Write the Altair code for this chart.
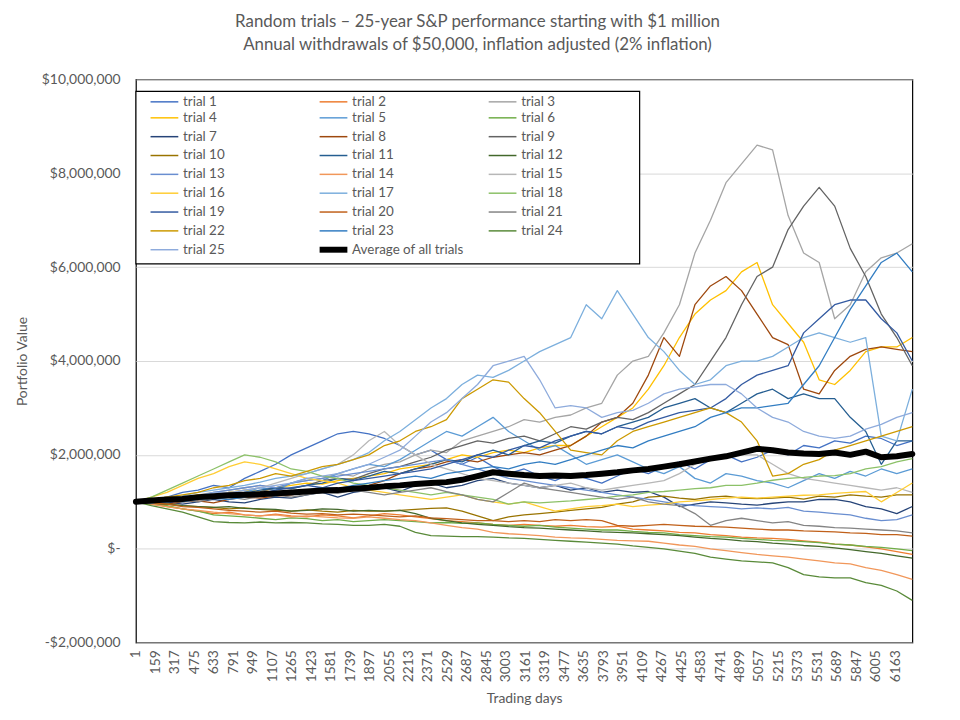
import altair as alt
import pandas as pd

TITLE_LINES = [
    "Random trials \u2013 25-year S&P performance starting with $1 million",
    "Annual withdrawals of $50,000, inflation adjusted (2% inflation)",
]
X_TITLE = "Trading days"
Y_TITLE = "Portfolio Value"

# sampled trading days (every 126 trading days = half a year)
SAMPLE_DAYS = list(range(1, 6302, 126))
TICK_DAYS = [1, 159, 317, 475, 633, 791, 949, 1107, 1265, 1423, 1581, 1739, 1897,
             2055, 2213, 2371, 2529, 2687, 2845, 3003, 3161, 3319, 3477, 3635,
             3793, 3951, 4109, 4267, 4425, 4583, 4741, 4899, 5057, 5215, 5373,
             5531, 5689, 5847, 6005, 6163]
Y_TICKS = [-2000000, 0, 2000000, 4000000, 6000000, 8000000, 10000000]

# portfolio values in $ millions
TRIAL_1 = [1.0, 1.05, 1.1, 1.2, 1.25, 1.35, 1.3, 1.5, 1.65, 1.8, 2.0,
           2.15, 2.3, 2.45, 2.5, 2.45, 2.35, 2.2, 2.0, 2.1, 1.9,
           1.8, 1.95, 1.75, 1.6, 1.7, 1.55, 1.45, 1.6, 1.5, 1.4,
           1.55, 1.7, 1.6, 1.75, 1.85, 1.7, 1.9, 2.0, 1.85, 1.95,
           2.1, 2.0, 2.2, 2.15, 2.3, 2.25, 2.4, 2.35, 2.2, 2.3]
TRIAL_2 = [1.0, 0.95, 0.9, 0.85, 0.8, 0.75, 0.78, 0.72, 0.7, 0.74, 0.7,
           0.68, 0.72, 0.7, 0.66, 0.7, 0.75, 0.72, 0.68, 0.64, 0.6,
           0.58, 0.55, 0.52, 0.5, 0.52, 0.5, 0.48, 0.5, 0.47, 0.46,
           0.48, 0.42, 0.4, 0.38, 0.35, 0.34, 0.3, 0.28, 0.25, 0.23,
           0.22, 0.2, 0.17, 0.14, 0.1, 0.08, 0.04, 0.0, -0.06, -0.12]
TRIAL_3 = [1.0, 1.05, 1.1, 1.05, 1.15, 1.2, 1.25, 1.3, 1.35, 1.3, 1.4,
           1.45, 1.5, 1.6, 1.55, 1.7, 1.8, 1.85, 2.0, 2.1, 2.05,
           2.3, 2.4, 2.5, 2.6, 2.75, 2.7, 2.8, 2.85, 3.0, 3.1,
           3.7, 4.0, 4.1, 4.6, 5.2, 6.3, 7.0, 7.8, 8.2, 8.6,
           8.5, 7.1, 6.3, 6.1, 4.9, 5.2, 5.9, 6.2, 6.3, 6.5]
TRIAL_4 = [1.0, 1.02, 1.08, 1.1, 1.15, 1.12, 1.2, 1.25, 1.22, 1.3, 1.35,
           1.4, 1.38, 1.45, 1.5, 1.55, 1.6, 1.7, 1.75, 1.8, 1.9,
           2.0, 1.95, 2.05, 2.1, 2.05, 2.15, 2.2, 2.2, 2.4, 2.6,
           2.8, 3.0, 3.4, 3.9, 4.5, 5.0, 5.3, 5.5, 5.9, 6.1,
           5.2, 4.8, 4.4, 3.6, 3.5, 3.8, 4.2, 4.3, 4.3, 4.5]
TRIAL_5 = [1.0, 1.03, 0.98, 1.05, 1.1, 1.15, 1.1, 1.2, 1.3, 1.25, 1.4,
           1.5, 1.45, 1.6, 1.7, 1.8, 1.75, 1.9, 2.1, 2.3, 2.5,
           2.4, 2.6, 2.8, 2.5, 2.3, 2.1, 2.2, 2.0, 1.8, 1.9,
           2.0, 1.85, 1.7, 1.6, 1.75, 1.5, 1.4, 1.6, 1.55, 1.45,
           1.4, 1.3, 1.45, 1.6, 1.5, 1.65, 1.55, 1.7, 1.6, 1.7]
TRIAL_6 = [1.0, 0.95, 0.92, 0.85, 0.8, 0.72, 0.7, 0.68, 0.65, 0.62, 0.66,
           0.64, 0.6, 0.62, 0.58, 0.6, 0.62, 0.6, 0.58, 0.55, 0.56,
           0.54, 0.55, 0.52, 0.5, 0.48, 0.5, 0.46, 0.44, 0.42, 0.4,
           0.4, 0.37, 0.35, 0.34, 0.3, 0.28, 0.26, 0.25, 0.22, 0.2,
           0.18, 0.17, 0.15, 0.13, 0.1, 0.08, 0.05, 0.03, 0.0, -0.04]
TRIAL_7 = [1.0, 1.02, 1.0, 0.95, 1.0, 1.05, 1.0, 0.98, 1.05, 1.1, 1.08,
           1.15, 1.2, 1.1, 1.2, 1.25, 1.3, 1.22, 1.35, 1.4, 1.3,
           1.35, 1.45, 1.5, 1.4, 1.35, 1.3, 1.35, 1.25, 1.3, 1.2,
           1.25, 1.2, 1.22, 1.1, 0.9, 0.95, 1.0, 0.98, 0.95, 0.93,
           0.97, 1.0, 1.0, 1.05, 1.05, 1.0, 0.9, 0.85, 0.75, 0.9]
TRIAL_8 = [1.0, 0.97, 0.95, 1.0, 1.02, 0.98, 1.05, 1.1, 1.08, 1.12, 1.15,
           1.2, 1.22, 1.25, 1.3, 1.35, 1.45, 1.6, 1.7, 1.75, 1.85,
           1.9, 1.85, 1.95, 2.0, 2.05, 2.0, 2.1, 2.2, 2.4, 2.7,
           2.8, 3.1, 3.7, 4.5, 4.1, 5.2, 5.6, 5.8, 5.5, 5.0,
           4.5, 4.35, 3.4, 3.3, 3.8, 4.1, 4.25, 4.3, 4.25, 4.2]
TRIAL_9 = [1.0, 0.98, 1.02, 1.08, 1.05, 1.12, 1.18, 1.15, 1.22, 1.3, 1.28,
           1.35, 1.45, 1.5, 1.48, 1.6, 1.7, 1.75, 1.85, 1.95, 2.1,
           2.2, 2.3, 2.25, 2.35, 2.4, 2.3, 2.45, 2.6, 2.55, 2.7,
           2.8, 2.75, 2.9, 3.1, 3.3, 3.5, 4.0, 4.5, 5.2, 5.8,
           6.0, 6.8, 7.3, 7.7, 7.3, 6.4, 5.8, 5.0, 4.5, 3.9]
TRIAL_10 = [1.0, 0.98, 0.95, 0.92, 0.9, 0.88, 0.85, 0.87, 0.84, 0.82, 0.8,
            0.83, 0.8, 0.78, 0.82, 0.8, 0.8, 0.82, 0.84, 0.86, 0.87,
            0.8, 0.7, 0.6, 0.68, 0.72, 0.75, 0.78, 0.82, 0.85, 0.88,
            0.95, 1.0, 1.1, 1.12, 1.08, 1.05, 1.1, 1.12, 1.08, 1.07,
            1.08, 1.1, 1.06, 1.12, 1.1, 1.15, 1.12, 1.1, 1.15, 1.15]
TRIAL_11 = [1.0, 1.02, 1.05, 1.1, 1.08, 1.15, 1.2, 1.18, 1.25, 1.3, 1.28,
            1.35, 1.4, 1.5, 1.45, 1.55, 1.65, 1.6, 1.7, 1.8, 1.9,
            1.85, 2.0, 2.1, 2.0, 2.2, 2.3, 2.25, 2.4, 2.5, 2.45,
            2.6, 2.7, 2.8, 3.0, 3.1, 3.2, 3.0, 2.9, 3.1, 3.3,
            3.4, 3.2, 3.3, 3.2, 3.2, 2.8, 2.5, 1.8, 2.3, 2.3]
TRIAL_12 = [1.0, 0.97, 0.95, 0.92, 0.9, 0.88, 0.9, 0.86, 0.85, 0.84, 0.8,
            0.82, 0.85, 0.84, 0.8, 0.82, 0.8, 0.82, 0.75, 0.65, 0.6,
            0.55, 0.52, 0.5, 0.47, 0.45, 0.44, 0.42, 0.4, 0.38, 0.36,
            0.35, 0.34, 0.32, 0.3, 0.28, 0.25, 0.22, 0.2, 0.17, 0.15,
            0.12, 0.1, 0.07, 0.05, 0.02, -0.02, -0.06, -0.1, -0.15, -0.2]
TRIAL_13 = [1.0, 1.05, 1.08, 1.12, 1.1, 1.2, 1.25, 1.3, 1.35, 1.3, 1.4,
            1.45, 1.5, 1.55, 1.6, 1.65, 1.7, 1.75, 1.8, 1.85, 1.9,
            1.8, 1.7, 1.6, 1.5, 1.45, 1.4, 1.35, 1.3, 1.25, 1.2,
            1.15, 1.1, 1.05, 1.0, 0.95, 0.92, 0.9, 0.88, 0.85, 0.87,
            0.85, 0.88, 0.8, 0.78, 0.75, 0.72, 0.65, 0.6, 0.62, 0.72]
TRIAL_14 = [1.0, 0.95, 0.9, 0.85, 0.82, 0.78, 0.75, 0.72, 0.7, 0.72, 0.68,
            0.7, 0.68, 0.66, 0.65, 0.68, 0.65, 0.62, 0.6, 0.55, 0.5,
            0.45, 0.42, 0.35, 0.32, 0.3, 0.28, 0.25, 0.23, 0.22, 0.2,
            0.18, 0.17, 0.16, 0.12, 0.08, 0.05, 0.0, -0.04, -0.08, -0.12,
            -0.15, -0.18, -0.22, -0.26, -0.3, -0.32, -0.4, -0.46, -0.55, -0.65]
TRIAL_15 = [1.0, 1.05, 1.1, 1.0, 1.05, 1.15, 1.2, 1.25, 1.3, 1.4, 1.5,
            1.6, 1.7, 1.8, 2.0, 2.3, 2.5, 2.2, 2.0, 1.8, 1.7,
            1.6, 1.5, 1.45, 1.4, 1.35, 1.3, 1.35, 1.4, 1.3, 1.25,
            1.3, 1.35, 1.4, 1.45, 1.6, 1.8, 1.95, 2.0, 2.0, 2.0,
            1.8, 1.6, 1.5, 1.45, 1.4, 1.35, 1.3, 1.25, 1.3, 1.2]
TRIAL_16 = [1.0, 1.1, 1.2, 1.35, 1.5, 1.6, 1.75, 1.85, 1.8, 1.7, 1.6,
            1.5, 1.45, 1.4, 1.3, 1.25, 1.2, 1.15, 1.1, 1.05, 1.1,
            1.15, 1.05, 1.0, 0.95, 1.0, 0.9, 0.8, 0.85, 0.9, 0.92,
            0.95, 0.9, 0.93, 0.95, 1.0, 1.02, 1.05, 1.08, 1.1, 1.08,
            1.1, 1.12, 1.14, 1.15, 1.18, 1.2, 1.22, 1.0, 1.2, 1.4]
TRIAL_17 = [1.0, 1.05, 1.08, 1.12, 1.2, 1.25, 1.3, 1.35, 1.42, 1.5, 1.55,
            1.6, 1.7, 1.8, 1.9, 2.05, 2.3, 2.5, 2.75, 3.0, 3.2,
            3.5, 3.7, 3.65, 3.8, 4.0, 4.2, 4.35, 4.5, 5.2, 4.9,
            5.5, 5.0, 4.5, 4.2, 3.8, 3.5, 3.6, 3.9, 4.0, 4.0,
            4.1, 4.3, 4.5, 4.6, 4.5, 4.4, 4.5, 2.4, 2.3, 3.4]
TRIAL_18 = [1.0, 1.1, 1.25, 1.4, 1.55, 1.7, 1.85, 2.0, 1.95, 1.85, 1.7,
            1.65, 1.55, 1.5, 1.4, 1.35, 1.3, 1.25, 1.2, 1.15, 1.2,
            1.15, 1.1, 1.05, 0.95, 1.0, 0.98, 1.0, 1.02, 1.05, 1.08,
            1.12, 1.15, 1.2, 1.22, 1.25, 1.28, 1.3, 1.35, 1.35, 1.4,
            1.46, 1.5, 1.52, 1.55, 1.56, 1.6, 1.7, 1.75, 1.85, 1.92]
TRIAL_19 = [1.0, 1.03, 1.0, 1.05, 1.1, 1.12, 1.15, 1.2, 1.18, 1.25, 1.3,
            1.35, 1.3, 1.4, 1.45, 1.5, 1.55, 1.6, 1.65, 1.7, 1.8,
            1.9, 2.0, 1.95, 2.1, 2.2, 2.15, 2.3, 2.4, 2.5, 2.45,
            2.6, 2.55, 2.7, 2.8, 2.9, 2.95, 3.0, 3.2, 3.5, 3.7,
            3.8, 3.9, 4.6, 4.9, 5.2, 5.3, 5.3, 4.9, 4.6, 4.0]
TRIAL_20 = [1.0, 0.98, 0.95, 0.9, 0.88, 0.85, 0.82, 0.8, 0.78, 0.8, 0.76,
            0.74, 0.75, 0.72, 0.74, 0.72, 0.7, 0.68, 0.7, 0.66, 0.64,
            0.62, 0.6, 0.6, 0.58, 0.6, 0.58, 0.62, 0.6, 0.62, 0.6,
            0.5, 0.48, 0.5, 0.52, 0.5, 0.48, 0.47, 0.46, 0.44, 0.42,
            0.4, 0.4, 0.38, 0.37, 0.36, 0.34, 0.33, 0.3, 0.3, 0.27]
TRIAL_21 = [1.0, 0.98, 1.02, 1.05, 1.0, 1.08, 1.1, 1.05, 1.12, 1.15, 1.1,
            1.15, 1.2, 1.18, 1.25, 1.2, 1.15, 1.2, 1.25, 1.3, 1.22,
            1.15, 1.05, 1.0, 1.2, 1.4, 1.3, 1.25, 1.2, 1.15, 1.1,
            1.05, 1.1, 1.0, 0.95, 0.92, 0.75, 0.5, 0.6, 0.65, 0.6,
            0.55, 0.58, 0.5, 0.48, 0.45, 0.44, 0.42, 0.4, 0.38, 0.34]
TRIAL_22 = [1.0, 1.05, 1.1, 1.15, 1.2, 1.3, 1.35, 1.45, 1.5, 1.6, 1.55,
            1.65, 1.75, 1.8, 1.9, 2.0, 2.2, 2.3, 2.5, 2.6, 2.75,
            3.2, 3.4, 3.6, 3.55, 3.2, 2.9, 2.5, 2.1, 2.05, 2.0,
            2.3, 2.5, 2.6, 2.7, 2.8, 2.9, 3.0, 2.9, 2.7, 2.3,
            1.55, 1.6, 1.8, 1.9, 2.1, 2.2, 2.3, 2.4, 2.5, 2.6]
TRIAL_23 = [1.0, 0.98, 1.02, 1.0, 1.05, 1.08, 1.05, 1.1, 1.15, 1.12, 1.2,
            1.25, 1.3, 1.28, 1.35, 1.4, 1.45, 1.5, 1.55, 1.5, 1.6,
            1.65, 1.7, 1.75, 1.7, 1.8, 1.85, 1.8, 1.9, 2.0, 2.1,
            2.2, 2.15, 2.3, 2.4, 2.5, 2.6, 2.8, 2.9, 3.0, 3.0,
            3.05, 3.1, 3.5, 3.9, 4.5, 5.1, 5.6, 6.1, 6.3, 5.9]
TRIAL_24 = [1.0, 0.92, 0.85, 0.78, 0.68, 0.58, 0.56, 0.55, 0.57, 0.55, 0.56,
            0.55, 0.53, 0.52, 0.5, 0.5, 0.52, 0.48, 0.35, 0.28, 0.27,
            0.26, 0.26, 0.25, 0.23, 0.22, 0.2, 0.18, 0.16, 0.14, 0.12,
            0.1, 0.06, 0.03, 0.0, -0.05, -0.1, -0.18, -0.22, -0.26, -0.28,
            -0.3, -0.4, -0.55, -0.6, -0.62, -0.62, -0.72, -0.78, -0.9, -1.1]
TRIAL_25 = [1.0, 1.02, 1.05, 1.1, 1.12, 1.2, 1.18, 1.25, 1.3, 1.35, 1.4,
            1.5, 1.55, 1.6, 1.7, 1.8, 1.95, 2.1, 2.4, 2.7, 2.9,
            3.2, 3.5, 3.9, 4.0, 4.1, 3.6, 3.0, 3.05, 3.0, 2.8,
            2.9, 2.95, 3.1, 3.3, 3.4, 3.45, 3.5, 3.5, 3.3, 3.0,
            2.8, 2.7, 2.5, 2.4, 2.35, 2.4, 2.55, 2.65, 2.8, 2.9]
AVERAGE = [1.00, 1.03, 1.05, 1.06, 1.10, 1.12, 1.14, 1.15, 1.16, 1.18, 1.20,
           1.22, 1.24, 1.25, 1.28, 1.30, 1.33, 1.35, 1.38, 1.40, 1.42,
           1.47, 1.55, 1.63, 1.60, 1.57, 1.55, 1.56, 1.55, 1.57, 1.60,
           1.63, 1.67, 1.70, 1.75, 1.80, 1.86, 1.92, 1.97, 2.05, 2.13,
           2.10, 2.05, 2.03, 2.02, 2.05, 2.00, 2.07, 1.95, 1.97, 2.02]

TRIALS = [TRIAL_1, TRIAL_2, TRIAL_3, TRIAL_4, TRIAL_5, TRIAL_6, TRIAL_7, TRIAL_8,
          TRIAL_9, TRIAL_10, TRIAL_11, TRIAL_12, TRIAL_13, TRIAL_14, TRIAL_15,
          TRIAL_16, TRIAL_17, TRIAL_18, TRIAL_19, TRIAL_20, TRIAL_21, TRIAL_22,
          TRIAL_23, TRIAL_24, TRIAL_25]
TRIAL_NAMES = [f"trial {i}" for i in range(1, 26)]
AVERAGE_NAME = "Average of all trials"
SERIES_NAMES = TRIAL_NAMES + [AVERAGE_NAME]
SERIES_COLORS = ["#4472C4", "#ED7D31", "#A5A5A5", "#FFC000", "#5B9BD5", "#70AD47",
                 "#264478", "#9E480E", "#636363", "#997300", "#255E91", "#43682B",
                 "#698ED0", "#F1975A", "#B7B7B7", "#FFCD33", "#7CAFDD", "#8CC168",
                 "#335AA1", "#C0601A", "#848484", "#CC9900", "#327DC2", "#598A39",
                 "#8EABDC", "#000000"]

trial_rows = []
for name, vals in zip(TRIAL_NAMES, TRIALS):
    for d, v in zip(SAMPLE_DAYS, vals):
        trial_rows.append({"series": name, "day": d, "value": v * 1_000_000})
trial_df = pd.DataFrame(trial_rows)
avg_df = pd.DataFrame({"series": [AVERAGE_NAME] * len(SAMPLE_DAYS), "day": SAMPLE_DAYS,
                       "value": [v * 1_000_000 for v in AVERAGE]})

FONT = "Lato"
GREY = "#595959"

legend = alt.Legend(
    title=None, orient="none", legendX=8, legendY=13, columns=3, direction="horizontal",
    gridAlign="all", padding=0,
    symbolType="M0,0H4", symbolSize=196, labelFont=FONT, labelFontSize=13.5,
    labelColor=GREY, rowPadding=-8.2, columnPadding=12.5, labelOffset=26, labelLimit=260,
    symbolStrokeWidth=alt.ExprRef(expr="datum.value == 'Average of all trials' ? 6 : 1.5"),
)

x_enc = alt.X("day:Q", scale=alt.Scale(domain=[1, 6301], nice=False, zero=False),
              axis=alt.Axis(values=TICK_DAYS, labelAngle=-90, format="d", title=X_TITLE,
                            grid=False, ticks=False, domain=False, labelPadding=7,
                            titlePadding=10, labelOverlap=False))
y_enc = alt.Y("value:Q", scale=alt.Scale(domain=[-2000000, 10000000], nice=False),
              axis=alt.Axis(values=Y_TICKS, title=Y_TITLE, ticks=False, domain=False,
                            labelPadding=16, titlePadding=12, gridColor="#D9D9D9",
                            labelExpr="datum.value == 0 ? '$-\u2007\u2007' : (datum.value < 0 ? '-$' + format(-datum.value, ',') : '$' + format(datum.value, ','))"))
color_enc = alt.Color("series:N", scale=alt.Scale(domain=SERIES_NAMES, range=SERIES_COLORS),
                      sort=SERIES_NAMES, legend=legend)

trials = alt.Chart(trial_df).mark_line(strokeWidth=1.3, strokeJoin="round").encode(
    x=x_enc, y=y_enc, color=color_enc, order=alt.Order("day:Q"),
)
average = alt.Chart(avg_df).mark_line(strokeWidth=6, strokeJoin="round", strokeCap="round").encode(
    x=x_enc, y=y_enc, color=color_enc, order=alt.Order("day:Q"),
)
# white, black-edged panel behind the legend (legend frame, in pixels)
legend_frame = alt.Chart(pd.DataFrame({"frame": [0]})).mark_rect(
    fill="white", stroke="black", strokeWidth=1.2
).encode(x=alt.value(0), x2=alt.value(508), y=alt.value(12), y2=alt.value(186))

chart = alt.layer(trials, average, legend_frame).properties(
    width=783, height=568,
    autosize=alt.AutoSizeParams(type="none"),
    padding={"left": 129, "top": 69, "right": 40, "bottom": 75},
    title=alt.TitleParams(text=TITLE_LINES, font=FONT, fontSize=17, fontWeight="normal",
                          color=GREY, anchor="middle", frame="group", offset=19, dx=-47,
                          lineHeight=23),
).configure(font=FONT).configure_axis(
    labelFont=FONT, labelFontSize=14, labelColor=GREY,
    titleFont=FONT, titleFontSize=14, titleColor=GREY, titleFontWeight="normal",
).configure_view(stroke="black", strokeWidth=1.2)

chart.save("out.html", embed_options={"renderer": "svg", "actions": False})
